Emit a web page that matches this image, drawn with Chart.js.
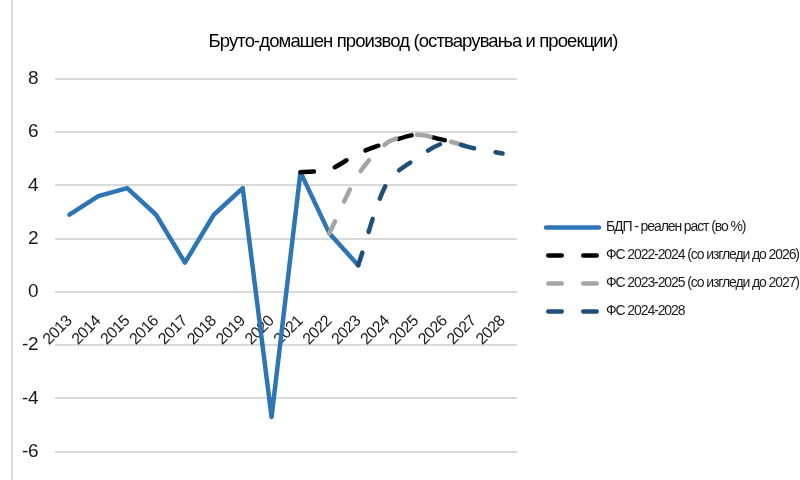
<!DOCTYPE html>
<html>
<head>
<meta charset="utf-8">
<script src="https://cdn.jsdelivr.net/npm/chart.js@4"></script>
<style>
  html, body { margin: 0; padding: 0; background: #fff; }
  #wrap { position: relative; width: 800px; height: 480px; overflow: hidden; }
  #frame { position: absolute; left: 11px; top: 0; width: 0; height: 480px; border-left: 2px solid #d9d9d9; }
  canvas { position: absolute; left: 0; top: 0; }
</style>
</head>
<body>
<div id="wrap">
  <canvas id="c" width="800" height="480"></canvas>
  <div id="frame"></div>
</div>
<script>
const years = ['2013','2014','2015','2016','2017','2018','2019','2020','2021','2022','2023','2024','2025','2026','2027','2028'];
const gdpActual = [2.9, 3.6, 3.9, 2.9, 1.1, 2.9, 3.9, -4.7, 4.5, 2.2, 1.0, null, null, null, null, null];
const fs2022 = [null, null, null, null, null, null, null, null, 4.5, 4.6, 5.2, 5.6, 5.9, 5.7, null, null];
const fs2023 = [null, null, null, null, null, null, null, null, null, 2.2, 4.4, 5.6, 5.9, 5.7, 5.4, null];
const fs2024 = [null, null, null, null, null, null, null, null, null, null, 1.0, 4.1, 5.0, 5.6, 5.4, 5.2];
const seriesNames = ['БДП - реален раст (во %)', 'ФС 2022-2024 (со изгледи до 2026)', 'ФС 2023-2025 (со изгледи до 2027)', 'ФС 2024-2028'];
const titleText = 'Бруто-домашен производ (остварувања и проекции)';
const yMin = -6, yMax = 8, yStep = 2;

const FONT = "'Liberation Sans', Arial, sans-serif";
const dash = [13.5, 21.5];
const LEGEND_W = 294;
// letter spacing (px) per text element, to imitate the narrow typeface of the original
const SPACING = { title: -0.9, legend: -1.1, x: -0.6, y: -0.5 };

function withSpacing(obj, fn, sp) {
  if (!obj || obj['_ls_' + fn]) return;
  const orig = obj[fn];
  obj[fn] = function (...args) {
    const ctx = this.ctx || this.chart.ctx;
    const prev = ctx.letterSpacing;
    ctx.letterSpacing = sp + 'px';
    const r = orig.apply(this, args);
    ctx.letterSpacing = prev;
    return r;
  };
  obj['_ls_' + fn] = true;
}

const helperPlugin = {
  id: 'helper',
  beforeLayout(chart) {
    const lg = chart.legend;
    if (lg && !lg._fixedW) {
      const f = lg.fit;
      lg.fit = function () { f.call(this); this.width = LEGEND_W; };
      lg._fixedW = true;
    }
  },
  beforeDraw(chart) {
    withSpacing(chart.titleBlock, 'draw', SPACING.title);
    withSpacing(chart.legend, 'draw', SPACING.legend);
    withSpacing(chart.scales.x, 'drawLabels', SPACING.x);
    withSpacing(chart.scales.y, 'drawLabels', SPACING.y);
  }
};

new Chart(document.getElementById('c'), {
  type: 'line',
  data: {
    labels: years,
    datasets: [
      { label: seriesNames[0], data: gdpActual, borderColor: '#2E75B6', backgroundColor: '#2E75B6', borderWidth: 4.5, pointRadius: 0, tension: 0, order: 4, borderCapStyle: 'round', borderJoinStyle: 'round' },
      { label: seriesNames[1], data: fs2022, borderColor: '#000000', backgroundColor: '#000000', borderWidth: 4.5, borderDash: dash, pointRadius: 0, tension: 0.3, order: 3, borderCapStyle: 'round' },
      { label: seriesNames[2], data: fs2023, borderColor: '#A5A5A5', backgroundColor: '#A5A5A5', borderWidth: 4.5, borderDash: dash, pointRadius: 0, tension: 0.3, order: 2, borderCapStyle: 'round' },
      { label: seriesNames[3], data: fs2024, borderColor: '#1F4E79', backgroundColor: '#1F4E79', borderWidth: 4.5, borderDash: dash, pointRadius: 0, tension: 0.3, order: 1, borderCapStyle: 'round' }
    ]
  },
  plugins: [helperPlugin],
  options: {
    responsive: false,
    animation: false,
    layout: { padding: { left: 0, right: -26, top: 10, bottom: 20 } },
    plugins: {
      title: {
        display: true, text: titleText, color: '#000',
        font: { family: FONT, size: 18.5, weight: 'normal' },
        padding: { top: 20.9, bottom: 25.9 }
      },
      legend: {
        display: true, position: 'right', align: 'center', fullSize: false,
        title: { display: true, text: ' ', font: { size: 1 }, padding: { top: 3.6, bottom: 3.6 } },
        labels: {
          usePointStyle: true, pointStyle: 'line', pointStyleWidth: 53,
          padding: 14, color: '#1a1a1a',
          font: { family: FONT, size: 14 },
          sort: (a, b) => a.datasetIndex - b.datasetIndex,
          generateLabels: (chart) => {
            const items = Chart.defaults.plugins.legend.labels.generateLabels(chart);
            return items.map(it => {
              const ds = chart.data.datasets[it.datasetIndex];
              return Object.assign(it, {
                strokeStyle: ds.borderColor, fillStyle: ds.borderColor,
                lineWidth: ds.borderWidth, lineDash: ds.borderDash || [],
                lineDashOffset: ds.borderDash ? -2.25 : 0, lineCap: 'round'
              });
            });
          }
        }
      },
      tooltip: { enabled: false }
    },
    scales: {
      x: {
        type: 'category', position: { y: 0 }, offset: true,
        grid: { display: false }, border: { display: false },
        ticks: { autoSkip: false, maxRotation: 45, minRotation: 45, padding: 12, color: '#1a1a1a', font: { family: FONT, size: 16 } }
      },
      y: {
        position: 'left', min: yMin, max: yMax,
        grid: { color: '#d9d9d9', lineWidth: 2, drawTicks: false },
        border: { display: false },
        ticks: { stepSize: yStep, padding: 17, color: '#1a1a1a', font: { family: FONT, size: 19 } },
        afterFit: s => { s.width = 55; }
      },
      gap: {
        type: 'linear', position: 'right', display: true,
        grid: { display: false }, border: { display: false },
        ticks: { display: false },
        afterFit: s => { s.width = 15; }
      }
    }
  }
});
</script>
</body>
</html>
